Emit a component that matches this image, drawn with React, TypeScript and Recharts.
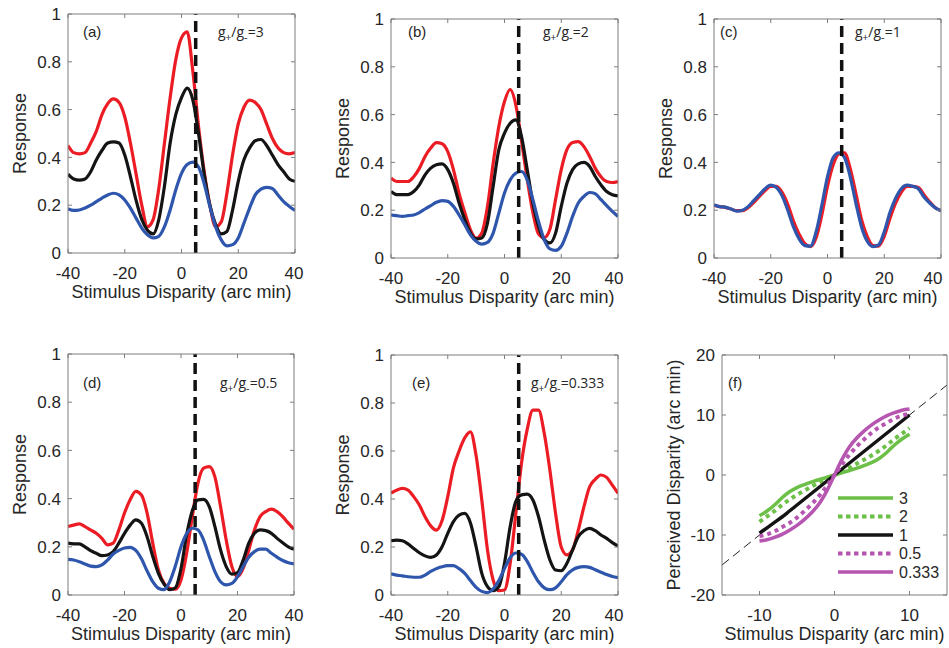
import React from 'react';
import { LineChart, Line, XAxis, YAxis, ReferenceLine, Label, Legend } from 'recharts';

const FONT = '"Liberation Sans", Arial, Helvetica, sans-serif';
const NOTE_FONT = '"Open Sans", "Noto Sans", sans-serif';
const FRAME = '#7d7d7d';
const TEXT = '#262626';
const RED = '#ec1c24';
const BLACK = '#141414';
const BLUE = '#2f56ad';
const GREEN = '#6cbf47';
const MAGENTA = '#b656b1';

// ---------- data ----------
const disparity = [-40, -38, -36, -34, -32, -30, -28, -26, -24, -22, -20, -18, -16, -14, -12, -10, -8, -6, -4, -2, 0, 2, 4, 6, 8, 10, 12, 14, 16, 18, 20, 22, 24, 26, 28, 30, 32, 34, 36, 38, 40];
const responseTicks = [0, 0.2, 0.4, 0.6, 0.8, 1];
const disparityTicks = [-40, -20, 0, 20, 40];

const aRed = [0.45, 0.42, 0.415, 0.42, 0.46, 0.51, 0.58, 0.625, 0.645, 0.63, 0.57, 0.46, 0.33, 0.2, 0.11, 0.14, 0.27, 0.46, 0.65, 0.81, 0.9, 0.925, 0.76, 0.53, 0.34, 0.2, 0.11, 0.13, 0.25, 0.41, 0.54, 0.61, 0.64, 0.63, 0.6, 0.54, 0.48, 0.44, 0.42, 0.415, 0.42];
const aBlack = [0.33, 0.31, 0.305, 0.31, 0.34, 0.39, 0.43, 0.46, 0.465, 0.46, 0.41, 0.32, 0.22, 0.14, 0.095, 0.08, 0.14, 0.28, 0.46, 0.58, 0.65, 0.69, 0.64, 0.5, 0.33, 0.2, 0.12, 0.08, 0.09, 0.18, 0.3, 0.39, 0.44, 0.47, 0.475, 0.45, 0.41, 0.37, 0.34, 0.31, 0.3];
const aBlue = [0.185, 0.178, 0.18, 0.188, 0.2, 0.215, 0.23, 0.243, 0.25, 0.243, 0.222, 0.188, 0.146, 0.104, 0.076, 0.063, 0.07, 0.11, 0.18, 0.265, 0.333, 0.37, 0.38, 0.36, 0.29, 0.195, 0.11, 0.055, 0.03, 0.035, 0.063, 0.125, 0.188, 0.243, 0.267, 0.275, 0.27, 0.243, 0.215, 0.195, 0.178];

const bRed = [0.335, 0.32, 0.32, 0.32, 0.34, 0.375, 0.425, 0.46, 0.483, 0.478, 0.445, 0.37, 0.27, 0.19, 0.118, 0.083, 0.105, 0.215, 0.395, 0.55, 0.655, 0.705, 0.64, 0.49, 0.33, 0.19, 0.1, 0.085, 0.12, 0.245, 0.37, 0.453, 0.483, 0.487, 0.466, 0.425, 0.375, 0.34, 0.32, 0.316, 0.32];
const bBlack = [0.278, 0.265, 0.265, 0.265, 0.278, 0.306, 0.348, 0.376, 0.39, 0.394, 0.37, 0.313, 0.23, 0.16, 0.104, 0.08, 0.084, 0.146, 0.3, 0.453, 0.522, 0.564, 0.578, 0.508, 0.37, 0.23, 0.132, 0.077, 0.063, 0.104, 0.216, 0.313, 0.37, 0.394, 0.4, 0.383, 0.341, 0.306, 0.278, 0.265, 0.26];
const bBlue = [0.18, 0.177, 0.174, 0.177, 0.18, 0.19, 0.205, 0.219, 0.233, 0.24, 0.237, 0.216, 0.18, 0.139, 0.097, 0.07, 0.058, 0.065, 0.104, 0.188, 0.272, 0.327, 0.355, 0.362, 0.327, 0.244, 0.153, 0.077, 0.038, 0.032, 0.049, 0.104, 0.174, 0.23, 0.258, 0.274, 0.269, 0.244, 0.219, 0.195, 0.174];

const cRed = [0.22, 0.215, 0.212, 0.205, 0.198, 0.198, 0.21, 0.232, 0.258, 0.282, 0.3, 0.3, 0.275, 0.225, 0.155, 0.1, 0.06, 0.048, 0.085, 0.18, 0.3, 0.39, 0.435, 0.44, 0.375, 0.27, 0.16, 0.09, 0.052, 0.05, 0.09, 0.165, 0.23, 0.275, 0.3, 0.3, 0.295, 0.265, 0.235, 0.21, 0.198];
const cBlue = [0.223, 0.215, 0.213, 0.205, 0.196, 0.2, 0.215, 0.24, 0.265, 0.29, 0.305, 0.295, 0.26, 0.2, 0.13, 0.08, 0.052, 0.05, 0.11, 0.22, 0.34, 0.42, 0.44, 0.42, 0.34, 0.23, 0.13, 0.07, 0.048, 0.055, 0.11, 0.19, 0.25, 0.29, 0.305, 0.3, 0.29, 0.255, 0.23, 0.21, 0.198];

const dRed = [0.284, 0.29, 0.295, 0.284, 0.27, 0.256, 0.235, 0.208, 0.215, 0.27, 0.34, 0.395, 0.43, 0.415, 0.34, 0.215, 0.104, 0.048, 0.028, 0.024, 0.062, 0.173, 0.325, 0.464, 0.526, 0.533, 0.49, 0.367, 0.228, 0.118, 0.076, 0.11, 0.187, 0.27, 0.325, 0.346, 0.356, 0.346, 0.325, 0.298, 0.273];
const dBlack = [0.215, 0.212, 0.212, 0.2, 0.184, 0.173, 0.163, 0.166, 0.18, 0.215, 0.256, 0.29, 0.312, 0.298, 0.242, 0.16, 0.09, 0.045, 0.022, 0.03, 0.11, 0.25, 0.35, 0.395, 0.397, 0.367, 0.284, 0.187, 0.118, 0.087, 0.093, 0.145, 0.215, 0.256, 0.27, 0.267, 0.256, 0.235, 0.217, 0.2, 0.19];
const dBlue = [0.148, 0.145, 0.138, 0.129, 0.12, 0.118, 0.125, 0.145, 0.17, 0.185, 0.195, 0.198, 0.185, 0.15, 0.1, 0.055, 0.028, 0.022, 0.055, 0.12, 0.2, 0.255, 0.277, 0.27, 0.228, 0.16, 0.097, 0.055, 0.042, 0.048, 0.076, 0.118, 0.157, 0.18, 0.19, 0.19, 0.173, 0.157, 0.143, 0.134, 0.129];

const eRed = [0.424, 0.437, 0.444, 0.437, 0.41, 0.375, 0.326, 0.288, 0.27, 0.31, 0.41, 0.53, 0.6, 0.655, 0.68, 0.58, 0.396, 0.188, 0.0625, 0.018, 0.021, 0.132, 0.34, 0.55, 0.69, 0.77, 0.77, 0.674, 0.52, 0.34, 0.2, 0.167, 0.188, 0.27, 0.368, 0.451, 0.482, 0.5, 0.49, 0.458, 0.424];
const eBlack = [0.226, 0.229, 0.226, 0.213, 0.194, 0.176, 0.163, 0.157, 0.167, 0.201, 0.257, 0.306, 0.333, 0.34, 0.3, 0.201, 0.09, 0.035, 0.018, 0.035, 0.132, 0.285, 0.39, 0.417, 0.42, 0.396, 0.326, 0.229, 0.146, 0.104, 0.101, 0.132, 0.188, 0.243, 0.268, 0.278, 0.268, 0.25, 0.236, 0.218, 0.204];
const eBlue = [0.088, 0.083, 0.08, 0.076, 0.074, 0.074, 0.083, 0.098, 0.11, 0.118, 0.122, 0.122, 0.11, 0.09, 0.06, 0.032, 0.015, 0.01, 0.025, 0.06, 0.11, 0.155, 0.175, 0.17, 0.14, 0.095, 0.055, 0.03, 0.022, 0.03, 0.055, 0.085, 0.105, 0.115, 0.118, 0.115, 0.105, 0.095, 0.085, 0.077, 0.072];

const stimulus = [-10, -9, -8, -7, -6, -5, -4, -3, -2, -1, 0, 1, 2, 3, 4, 5, 6, 7, 8, 9, 10];
const perceivedTicksY = [-20, -10, 0, 10, 20];
const stimulusTicks = [-10, 0, 10];
const fRatio3 = [-6.8, -6.0, -5.0, -3.8, -2.8, -2.1, -1.6, -1.15, -0.75, -0.38, 0, 0.38, 0.75, 1.15, 1.6, 2.1, 2.8, 3.8, 5.0, 6.0, 6.8];
const fRatio2 = [-7.8, -6.9, -6.0, -5.0, -4.1, -3.3, -2.6, -1.9, -1.2, -0.6, 0, 0.6, 1.2, 1.9, 2.6, 3.3, 4.1, 5.0, 6.0, 6.9, 7.8];
const fRatio1 = [-9.7, -8.8, -7.9, -7.0, -6.0, -5.0, -4.0, -3.0, -2.0, -1.0, 0, 1.0, 2.0, 3.0, 4.0, 5.0, 6.0, 7.0, 8.0, 9.0, 10.0];
const fRatio05 = [-10.2, -9.9, -9.4, -8.7, -8.0, -7.1, -6.0, -4.8, -3.4, -1.8, 0, 1.8, 3.4, 4.8, 6.0, 7.1, 8.0, 8.7, 9.4, 9.9, 10.2];
const fRatio033 = [-11.0, -10.8, -10.4, -9.9, -9.2, -8.4, -7.4, -6.2, -4.7, -2.6, 0, 2.6, 4.7, 6.2, 7.4, 8.4, 9.2, 9.9, 10.4, 10.8, 11.0];

// ---------- helpers ----------
type Series = { key: string; name: string; color: string; values: number[]; width: number; dash?: string };
type Box = { left: number; top: number; width: number; height: number; plotL: number; plotT: number; plotR: number; plotB: number };

const buildRows = (xs: number[], series: Series[]) =>
  xs.map((x, i) => {
    const row: Record<string, number> = { x };
    series.forEach((s) => {
      row[s.key] = s.values[i];
    });
    return row;
  });

const fmt = (v: number) => String(v);

const bottomTick = (maxX: number) => (p: any) => {
  const tx = Math.min(p.x, maxX);
  return (
    <g>
      <line x1={p.x} x2={p.x} y1={p.y} y2={p.y - 4} stroke={FRAME} strokeWidth={1} />
      <text x={tx} y={p.y + 20} dy="0.36em" textAnchor="middle" fontSize={17} fontFamily={FONT} fill={TEXT}>
        {fmt(p.payload.value)}
      </text>
    </g>
  );
};
const leftTick = (p: any) => (
  <g>
    <line x1={p.x} x2={p.x + 4} y1={p.y} y2={p.y} stroke={FRAME} strokeWidth={1} />
    <text x={p.x - 7} y={p.y} dy="0.36em" textAnchor="end" fontSize={17} fontFamily={FONT} fill={TEXT}>
      {fmt(p.payload.value)}
    </text>
  </g>
);
const topTick = (p: any) => <line x1={p.x} x2={p.x} y1={p.y} y2={p.y + 4} stroke={FRAME} strokeWidth={1} />;
const rightTick = (p: any) => <line x1={p.x} x2={p.x - 4} y1={p.y} y2={p.y} stroke={FRAME} strokeWidth={1} />;

type PanelProps = {
  box: Box;
  xs: number[];
  series: Series[];
  xDomain: [number, number];
  xTicks: number[];
  yDomain: [number, number];
  yTicks: number[];
  yLabel: string;
  letter: string;
  letterPos: [number, number];
  ratio?: string;
  ratioPos?: [number, number];
  refX?: number;
  diagonal?: boolean;
  legend?: boolean;
  curve: 'monotone' | 'linear';
};

const AXIS = 1; // thickness reserved by each axis band

function Panel(props: PanelProps) {
  const { box, xs, series, xDomain, xTicks, yDomain, yTicks, yLabel, letter, letterPos, ratio, ratioPos, refX, diagonal, legend, curve } = props;
  const margin = {
    top: box.plotT - box.top - AXIS,
    left: box.plotL - box.left - AXIS,
    right: box.left + box.width - box.plotR - AXIS,
    bottom: box.top + box.height - box.plotB - AXIS,
  };
  const data = buildRows(xs, series);
  const plotW = box.plotR - box.plotL;
  const plotH = box.plotB - box.plotT;
  const pl = box.plotL - box.left;
  const pt = box.plotT - box.top;

  const renderNotes = () => (
    <g>
      <text x={pl + letterPos[0]} y={pt + letterPos[1]} dy="0.36em" fontSize={15} fontFamily={FONT} fill={TEXT}>
        {letter}
      </text>
      {ratio && ratioPos && (
        <text x={pl + ratioPos[0]} y={pt + ratioPos[1]} dy="0.36em" fontSize={14} fontFamily={NOTE_FONT} fill={TEXT}>
          g<tspan dy="3.5" fontSize={10}>+</tspan>
          <tspan dy="-3.5">/g</tspan>
          <tspan dy="3.5" fontSize={11}>-</tspan>
          <tspan dy="-3.5">={ratio}</tspan>
        </text>
      )}
    </g>
  );
  const renderXLabel = () => (
    <text x={pl + plotW / 2} y={pt + plotH + 39} dy="0.36em" textAnchor="middle" fontSize={18} fontFamily={FONT} fill={TEXT}>
      Stimulus Disparity (arc min)
    </text>
  );
  const renderYLabel = () => {
    const cx = pl - 48;
    const cy = pt + plotH / 2;
    return (
      <text x={cx} y={cy} dy="0.36em" textAnchor="middle" fontSize={18} fontFamily={FONT} fill={TEXT} transform={`rotate(-90 ${cx} ${cy})`}>
        {yLabel}
      </text>
    );
  };
  const renderLegend = () => (
    <svg width={115} height={100} style={{ display: 'block' }}>
      {series.map((s, i) => {
        const y = 10 + i * 18.5;
        return (
          <g key={s.key}>
            <line x1={3} x2={58} y1={y} y2={y} stroke={s.color} strokeWidth={s.dash ? 4 : 3.5} strokeDasharray={s.dash ? '4.5 3.5' : undefined} />
            <text x={64} y={y} dy="0.36em" fontSize={16} fontFamily={FONT} fill={TEXT}>
              {s.name}
            </text>
          </g>
        );
      })}
    </svg>
  );

  return (
    <div style={{ position: 'absolute', left: box.left, top: box.top, width: box.width, height: box.height }}>
      <LineChart width={box.width} height={box.height} data={data} margin={margin}>
        <XAxis dataKey="x" type="number" domain={xDomain} ticks={xTicks} interval={0} height={AXIS} tickSize={0} tickMargin={0} tickLine={false} axisLine={{ stroke: FRAME }} tick={bottomTick(box.width - 16)} allowDataOverflow>
          <Label content={renderXLabel} />
        </XAxis>
        <XAxis xAxisId="top" orientation="top" dataKey="x" type="number" domain={xDomain} ticks={xTicks} interval={0} height={AXIS} tickSize={0} tickMargin={0} tickLine={false} axisLine={{ stroke: FRAME }} tick={topTick} allowDataOverflow>
          <Label content={renderNotes} />
        </XAxis>
        <YAxis type="number" domain={yDomain} ticks={yTicks} interval={0} width={AXIS} tickSize={0} tickMargin={0} tickLine={false} axisLine={{ stroke: FRAME }} tick={leftTick} allowDataOverflow>
          <Label content={renderYLabel} />
        </YAxis>
        <YAxis yAxisId="right" orientation="right" type="number" domain={yDomain} ticks={yTicks} interval={0} width={AXIS} tickSize={0} tickMargin={0} tickLine={false} axisLine={{ stroke: FRAME }} tick={rightTick} allowDataOverflow />
        {diagonal && (
          <ReferenceLine
            segment={[
              { x: xDomain[0], y: xDomain[0] },
              { x: xDomain[1], y: xDomain[1] },
            ]}
            stroke="#222"
            strokeWidth={1}
            strokeDasharray="9 5"
            ifOverflow="hidden"
          />
        )}
        {series.map((s) => (
          <Line
            key={s.key}
            dataKey={s.key}
            name={s.name}
            type={curve}
            stroke={s.color}
            strokeWidth={s.width}
            strokeDasharray={s.dash}
            dot={false}
            activeDot={false}
            isAnimationActive={false}
            legendType="line"
          />
        ))}
        {refX !== undefined && <ReferenceLine x={refX} stroke="#111" strokeWidth={3.5} strokeDasharray="11 6" />}
        {legend && (
          <Legend
            layout="vertical"
            align="center"
            verticalAlign="middle"
            content={renderLegend}
            wrapperStyle={{ left: 195, top: 168, width: 115, height: 100 }}
          />
        )}
      </LineChart>
    </div>
  );
}

const rgb = (red: number[], black: number[] | null, blue: number[]): Series[] => {
  const out: Series[] = [{ key: 'red', name: 'red', color: RED, values: red, width: 3.2 }];
  if (black) out.push({ key: 'black', name: 'black', color: BLACK, values: black, width: 3.2 });
  out.push({ key: 'blue', name: 'blue', color: BLUE, values: blue, width: 3.2 });
  return out;
};

const fSeries: Series[] = [
  { key: 'r3', name: '3', color: GREEN, values: fRatio3, width: 3.5 },
  { key: 'r2', name: '2', color: GREEN, values: fRatio2, width: 4, dash: '4 4' },
  { key: 'r1', name: '1', color: BLACK, values: fRatio1, width: 3.5 },
  { key: 'r05', name: '0.5', color: MAGENTA, values: fRatio05, width: 4, dash: '4 4' },
  { key: 'r033', name: '0.333', color: MAGENTA, values: fRatio033, width: 3.5 },
];

export default function App() {
  const common = {
    xs: disparity,
    xDomain: [-40, 40] as [number, number],
    xTicks: disparityTicks,
    yDomain: [0, 1] as [number, number],
    yTicks: responseTicks,
    yLabel: 'Response',
    refX: 5,
    curve: 'monotone' as const,
  };
  return (
    <div style={{ position: 'absolute', left: 0, top: 0, width: 949, height: 648, background: '#fff', fontFamily: FONT }}>
      <Panel {...common} box={{ left: 0, top: 0, width: 310, height: 310, plotL: 68, plotT: 14, plotR: 295, plotB: 253 }} series={rgb(aRed, aBlack, aBlue)} letter="(a)" letterPos={[15, 18]} ratio="3" ratioPos={[150, 18]} />
      <Panel {...common} box={{ left: 320, top: 0, width: 310, height: 310, plotL: 391, plotT: 19, plotR: 618, plotB: 258 }} series={rgb(bRed, bBlack, bBlue)} letter="(b)" letterPos={[17, 13]} ratio="2" ratioPos={[152, 13]} />
      <Panel {...common} box={{ left: 640, top: 0, width: 309, height: 310, plotL: 714, plotT: 19, plotR: 941, plotB: 258 }} series={rgb(cRed, null, cBlue)} letter="(c)" letterPos={[6, 13]} ratio="1" ratioPos={[141, 13]} />
      <Panel {...common} box={{ left: 0, top: 320, width: 310, height: 328, plotL: 68, plotT: 354, plotR: 294, plotB: 595 }} series={rgb(dRed, dBlack, dBlue)} letter="(d)" letterPos={[15, 29]} ratio="0.5" ratioPos={[152, 29]} />
      <Panel {...common} box={{ left: 320, top: 320, width: 310, height: 328, plotL: 391, plotT: 355, plotR: 618, plotB: 595 }} series={rgb(eRed, eBlack, eBlue)} letter="(e)" letterPos={[21, 28]} ratio="0.333" ratioPos={[140, 28]} />
      <Panel
        box={{ left: 640, top: 320, width: 309, height: 328, plotL: 722, plotT: 355, plotR: 947, plotB: 595 }}
        xs={stimulus}
        series={fSeries}
        xDomain={[-15, 15]}
        xTicks={stimulusTicks}
        yDomain={[-20, 20]}
        yTicks={perceivedTicksY}
        yLabel="Perceived Disparity (arc min)"
        letter="(f)"
        letterPos={[6, 28]}
        diagonal
        legend
        curve="monotone"
      />
    </div>
  );
}
